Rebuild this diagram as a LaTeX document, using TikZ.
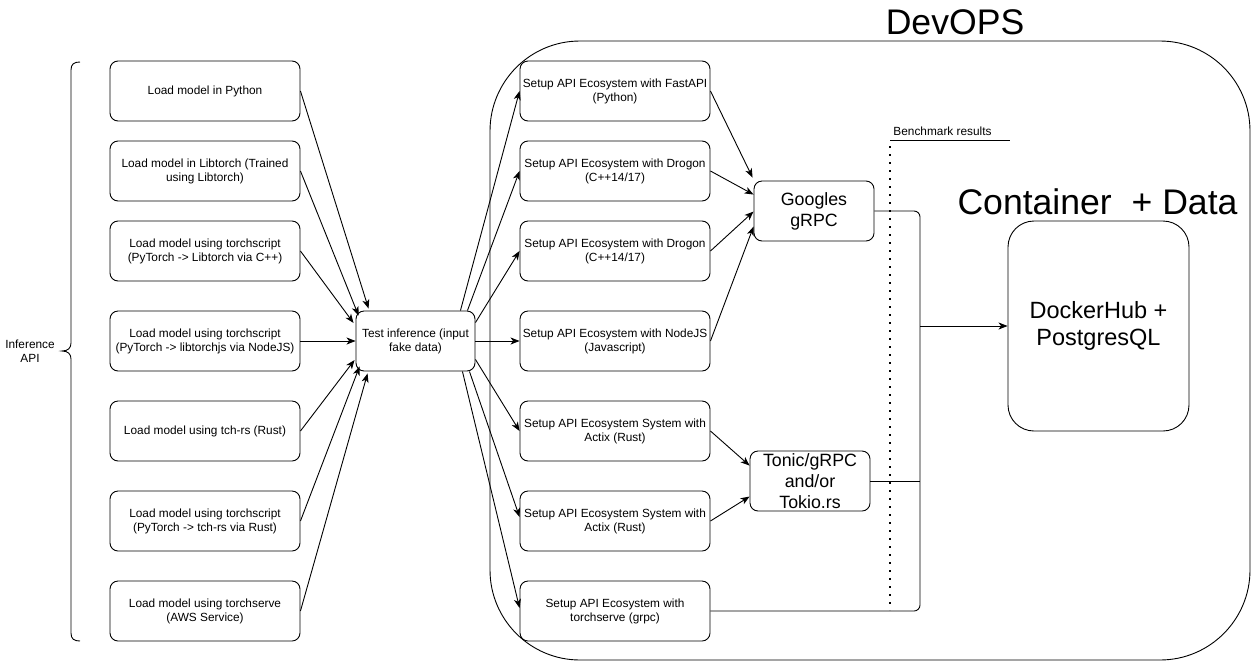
\documentclass[tikz,border=0pt]{standalone}
\usepackage{fontspec}
\setmainfont{Liberation Sans}
\usetikzlibrary{arrows.meta,calc}
\newcommand\fszS{\fontsize{11.85}{14}\selectfont}
\newcommand\fszM{\fontsize{17.8}{21}\selectfont}
\newcommand\fszL{\fontsize{23.5}{27}\selectfont}
\newcommand\fszH{\fontsize{35.6}{40}\selectfont}
\begin{document}
\begin{tikzpicture}[x=1pt,y=-1pt,line width=0.9pt,
  box/.style={draw, rounded corners=8pt, fill=white, minimum width=190pt,
    minimum height=60pt, inner sep=0pt, align=center, font=\fszS},
  arr/.style={-{Stealth[length=9pt,width=7pt,inset=2.5pt]}},
  plain/.style={inner sep=0pt, align=center}]
\useasboundingbox (0,0) rectangle (1255,662);
% DevOPS container
\node[draw, rounded corners=90pt, minimum width=760pt, minimum height=619pt,
  inner sep=0pt] (devops) at (870,350.5) {};
\node[plain, font=\fszH] (devopsT) at (955,22) {DevOPS};
\node[plain, font=\fszH] (contT) at (1097.5,202) {Container~ + Data};
% Inference API brace
\node[plain, font=\fszS] (inf) at (30,351) {Inference\\API};
\draw (80,62) .. controls (74,62) and (71,64) .. (71,70) -- (71,343)
  .. controls (71,348) and (68,351) .. (62,351)
  .. controls (68,351) and (71,354) .. (71,359) -- (71,633)
  .. controls (71,639) and (74,641) .. (80,641);
% left column
\node[box] (l1) at (205,91) {Load model in Python};
\node[box] (l2) at (205,171) {Load model in Libtorch (Trained\\using Libtorch)};
\node[box] (l3) at (205,251) {Load model using torchscript\\(PyTorch -> Libtorch via C++)};
\node[box] (l4) at (205,341) {Load model using torchscript\\(PyTorch -> libtorchjs via NodeJS)};
\node[box] (l5) at (205,431) {Load model using tch-rs (Rust)};
\node[box] (l6) at (205,521) {Load model using torchscript\\(PyTorch -> tch-rs via Rust)};
\node[box] (l7) at (205,611) {Load model using torchserve\\(AWS Service)};
% test inference
\node[box, minimum width=119pt] (ti) at (415.5,341) {Test inference (input\\fake data)};
% middle column
\node[box] (m1) at (615,91) {Setup API Ecosystem with FastAPI\\(Python)};
\node[box] (m2) at (615,171) {Setup API Ecosystem with Drogon\\(C++14/17)};
\node[box] (m3) at (615,251) {Setup API Ecosystem with Drogon\\(C++14/17)};
\node[box] (m4) at (615,341) {Setup API Ecosystem with NodeJS\\(Javascript)};
\node[box] (m5) at (615,431) {Setup API Ecosystem System with\\Actix (Rust)};
\node[box] (m6) at (615,521) {Setup API Ecosystem System with\\Actix (Rust)};
\node[box] (m7) at (615,611) {Setup API Ecosystem with\\torchserve (grpc)};
% gRPC boxes
\node[box, minimum width=120pt, font=\fszM] (gg) at (814,211) {Googles\\gRPC};
\node[box, minimum width=120pt] (tn) at (810,481) {};
\node[plain, font=\fszM] (tnT) at (810,481) {Tonic/gRPC\\and/or\\Tokio.rs};
% DockerHub
\node[draw, rounded corners=26pt, fill=white, minimum width=181pt, minimum height=210pt,
  inner sep=0pt, align=center, font=\fszL] (dh) at (1098.5,326) {DockerHub +\\PostgresQL};
% Benchmark
\node[plain, font=\fszS, anchor=base west] (bm) at (893,135) {Benchmark results};
\coordinate (bmL) at (890,140);
\coordinate (bmR) at (1010,140);
\coordinate (dotT) at (890,146);
\coordinate (dotB) at (890,610);
\draw (bmL) -- (bmR);
\draw[line width=2pt, dash pattern=on 2pt off 6pt] (dotT) -- (dotB);
% left -> test inference
\draw[arr] (l1.east) -- ([xshift=13pt,yshift=2pt]ti.north west);
\draw[arr] (l2.east) -- ([xshift=3pt,yshift=-5pt]ti.north west);
\draw[arr] (l3.east) -- ([xshift=-2pt,yshift=18pt]ti.west);
\draw[arr] (l4.east) -- (ti.west);
\draw[arr] (l5.east) -- ([xshift=-1pt,yshift=-19pt]ti.west);
\draw[arr] (l6.east) -- ([xshift=4pt,yshift=5pt]ti.south west);
\draw[arr] (l7.east) -- ([xshift=12pt,yshift=-2pt]ti.south west);
% test inference -> middle
\draw[arr] ([xshift=-15pt]ti.north east) -- (m1.west);
\draw[arr] ([xshift=-8pt]ti.north east) -- (m2.west);
\draw[arr] ([yshift=-12pt]ti.north east) -- (m3.west);
\draw[arr] (ti.east) -- (m4.west);
\draw[arr] ([yshift=12pt]ti.south east) -- (m5.west);
\draw[arr] ([xshift=-6pt]ti.south east) -- ([yshift=4pt]m6.west);
\draw[arr] ([xshift=-13pt]ti.south east) -- ([yshift=3pt]m7.west);
% middle -> gRPC
\draw[arr] (m1.east) -- ([xshift=-1pt,yshift=3pt]gg.north west);
\draw[arr] (m2.east) -- ([yshift=-14pt]gg.north west);
\draw[arr] (m3.east) -- ([yshift=-31pt]gg.north west);
\draw[arr] (m4.east) -- ([yshift=-46pt]gg.north west);
\draw[arr] (m5.east) -- ([yshift=-15pt]tn.north west);
\draw[arr] (m6.east) -- ([yshift=-46pt]tn.north west);
% collector bus
\coordinate (busT) at (920,211);
\coordinate (busM) at (920,326);
\draw[rounded corners=6pt] (gg.east) -- (busT) |- (m7.east);
\draw (tn.east) -- (tn.east -| busT);
\draw[arr] (busM) -- (dh.west);
\end{tikzpicture}
\end{document}
